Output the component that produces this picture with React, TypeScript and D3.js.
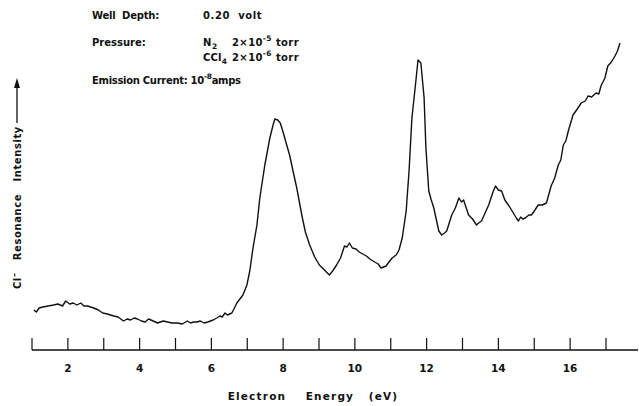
import React, { useEffect, useRef } from 'react'
import * as d3 from 'd3'

// electron energy (eV)
const energy = [
    1.05, 1.12, 1.2, 1.3, 1.45, 1.6, 1.72, 1.85, 1.94, 2.05, 2.15, 2.25, 2.36, 2.45, 2.55, 2.72, 2.85, 2.97, 3.1,
    3.28, 3.4, 3.55, 3.65, 3.75, 3.85, 3.94, 4.05, 4.15, 4.25, 4.38, 4.5, 4.66, 4.78, 4.9, 5.05, 5.19, 5.33, 5.42,
    5.5, 5.6, 5.69, 5.8, 5.9, 6.05, 6.15, 6.24, 6.3, 6.38, 6.45, 6.57, 6.63, 6.71, 6.88, 6.99, 7.07, 7.16, 7.27,
    7.35, 7.49, 7.63, 7.72, 7.77, 7.85, 7.92,
    7.99, 8.1, 8.18, 8.3, 8.38, 8.52, 8.62, 8.74, 8.88, 9.01, 9.15, 9.29, 9.38, 9.49, 9.6, 9.71, 9.78, 9.85, 9.93,
    10.03, 10.12, 10.22, 10.32, 10.42, 10.55, 10.65, 10.73, 10.87, 10.95,
    11.04, 11.15, 11.23, 11.32, 11.43, 11.51, 11.59, 11.7, 11.76, 11.84, 11.93, 11.98, 12.06, 12.13, 12.2, 12.34,
    12.42, 12.5, 12.56, 12.7, 12.8, 12.9, 12.97, 13.03, 13.17, 13.28, 13.39, 13.45, 13.53, 13.63, 13.73, 13.85,
    13.92, 14.0, 14.09, 14.18, 14.28, 14.4, 14.5, 14.56, 14.62, 14.68, 14.75, 14.85,
    14.92, 15.02, 15.11, 15.22, 15.34, 15.47, 15.57, 15.67, 15.74, 15.81, 15.88, 15.95, 16.08, 16.2, 16.31, 16.42,
    16.5, 16.6, 16.72, 16.8, 16.86, 16.97, 17.05, 17.15, 17.25, 17.32, 17.39,
]

// Cl- resonance intensity, arbitrary units
const intensity = [
    40, 38, 42, 43, 44, 45, 46, 44, 49, 46, 47, 45, 47, 44, 44, 42, 40, 37, 36,
    34, 33, 29, 31, 30, 32, 31, 29, 28, 31, 29, 27, 29, 28, 27, 27, 26, 29, 27,
    28, 28, 29, 27, 28, 30, 32, 34, 33, 37, 35, 37, 41, 47, 55, 65, 79, 102, 125,
    152, 185, 212, 225, 231, 230, 227,
    219, 205, 195, 175, 162, 135, 118, 105, 93, 85, 80, 75, 79, 85, 92, 104, 103, 107, 102,
    101, 98, 96, 94, 91, 88, 86, 82, 84, 88,
    92, 95, 100, 112, 139, 179, 232, 269, 290, 287, 252, 202, 159, 150, 142, 119,
    115, 117, 119, 135, 142, 152, 148, 150, 135, 131, 125, 127, 129, 137, 145, 158,
    164, 160, 159, 150, 145, 138, 132, 129, 133, 131, 132, 135,
    135, 140, 145, 145, 147, 164, 172, 185, 190, 205, 209, 219, 235, 241, 247, 249,
    254, 253, 257, 256, 264, 272, 284, 288, 294, 299, 307,
]

const tickValues = [1, 2, 3, 4, 5, 6, 7, 8, 9, 10, 11, 12, 13, 14, 15, 16, 17]
const tickLabels = [2, 4, 6, 8, 10, 12, 14, 16]

const App = () => {
    const Chart = useRef<SVGSVGElement>(null)

    const width = 639
    const height = 406
    const font = '"DejaVu Sans", sans-serif'

    useEffect(() => {
        const svg = d3.select(Chart.current)
        svg.selectAll('*').remove()

        const x = d3.scaleLinear().domain([1, 17]).range([32, 606])
        const y = d3.scaleLinear().domain([0, 300]).range([350, 50])
        const axisY = 350

        // axis line + ticks
        svg.append('line')
            .attr('x1', x(1)).attr('x2', 638)
            .attr('y1', axisY).attr('y2', axisY)
            .attr('stroke', '#111').attr('stroke-width', 1.4)

        svg.append('g')
            .selectAll('line')
            .data(tickValues)
            .join('line')
            .attr('x1', d => x(d)).attr('x2', d => x(d))
            .attr('y1', axisY).attr('y2', axisY - 12)
            .attr('stroke', '#111').attr('stroke-width', 1.2)

        svg.append('g')
            .selectAll('text')
            .data(tickLabels)
            .join('text')
            .text(d => d)
            .attr('x', d => x(d))
            .attr('y', 372)
            .attr('text-anchor', 'middle')
            .attr('fill', '#111')
            .style('font-family', font)
            .style('font-weight', 'bold')
            .style('font-size', '10.5px')

        // x title
        svg.append('text')
            .attr('x', 313).attr('y', 400)
            .attr('text-anchor', 'middle')
            .attr('fill', '#111')
            .style('font-family', font)
            .style('font-weight', 'bold')
            .style('font-size', '10.5px')
            .style('letter-spacing', '1.2px')
            .style('white-space', 'pre')
            .text('Electron    Energy   (eV)')

        // y title
        const yt = svg.append('text')
            .attr('transform', 'translate(21,126) rotate(-90)')
            .attr('text-anchor', 'end')
            .attr('fill', '#111')
            .style('font-family', font)
            .style('font-weight', 'bold')
            .style('font-size', '10px')
            .style('letter-spacing', '0.6px')
            .style('white-space', 'pre')
        yt.append('tspan').text('Cl')
        yt.append('tspan').attr('dy', -4).style('font-size', '8px').text('\u2013')
        yt.append('tspan').attr('dy', 4).text('   Resonance   Intensity')

        svg.append('line')
            .attr('x1', 17).attr('x2', 17)
            .attr('y1', 123).attr('y2', 84)
            .attr('stroke', '#111').attr('stroke-width', 1.3)
        svg.append('path')
            .attr('d', 'M17,78 L14,88 L20,88 Z')
            .attr('fill', '#111')

        // annotations
        const note = (tx: number, ty: number, ls: number) => svg.append('text')
            .attr('x', tx).attr('y', ty)
            .attr('fill', '#111')
            .style('font-family', font)
            .style('font-weight', 'bold')
            .style('font-size', '10px')
            .style('letter-spacing', ls + 'px')
            .style('white-space', 'pre')

        note(92, 19, -0.2).text('Well  Depth:')
        note(203, 19, 0.6).text('0.20  volt')
        note(92, 46, 0).text('Pressure:')

        const n2 = note(203, 46, 0.6)
        n2.append('tspan').text('N')
        n2.append('tspan').attr('dy', 3).style('font-size', '7.5px').text('2')

        const p1 = note(232, 46, 0.4)
        p1.append('tspan').text('2\u00d710')
        p1.append('tspan').attr('dy', -5).style('font-size', '7.5px').text('-5')
        p1.append('tspan').attr('dy', 5).text(' torr')

        const ccl = note(203, 61, 0.2)
        ccl.append('tspan').text('CCl')
        ccl.append('tspan').attr('dy', 3).style('font-size', '7.5px').text('4')

        const p2 = note(232, 61, 0.4)
        p2.append('tspan').text('2\u00d710')
        p2.append('tspan').attr('dy', -5).style('font-size', '7.5px').text('-6')
        p2.append('tspan').attr('dy', 5).text(' torr')

        const em = note(92, 84, -0.3)
        em.append('tspan').text('Emission Current: 10')
        em.append('tspan').attr('dy', -5).style('font-size', '7.5px').text('-8')
        em.append('tspan').attr('dy', 5).text('amps')

        // trace
        const pts = energy.map((e, i) => [e, intensity[i]] as [number, number])
        const line = d3.line<[number, number]>()
            .x(d => x(d[0]))
            .y(d => y(d[1]))

        svg.append('path')
            .datum(pts)
            .attr('d', line)
            .attr('fill', 'none')
            .attr('stroke', '#111')
            .attr('stroke-width', 1.4)
            .attr('stroke-linejoin', 'round')
    })

    return (
        <div>
            <svg ref={Chart} width={width} height={height}
                style={{ position: 'absolute', left: 0, top: 0, background: '#fff' }}></svg>
        </div>
    )
}
export default App
